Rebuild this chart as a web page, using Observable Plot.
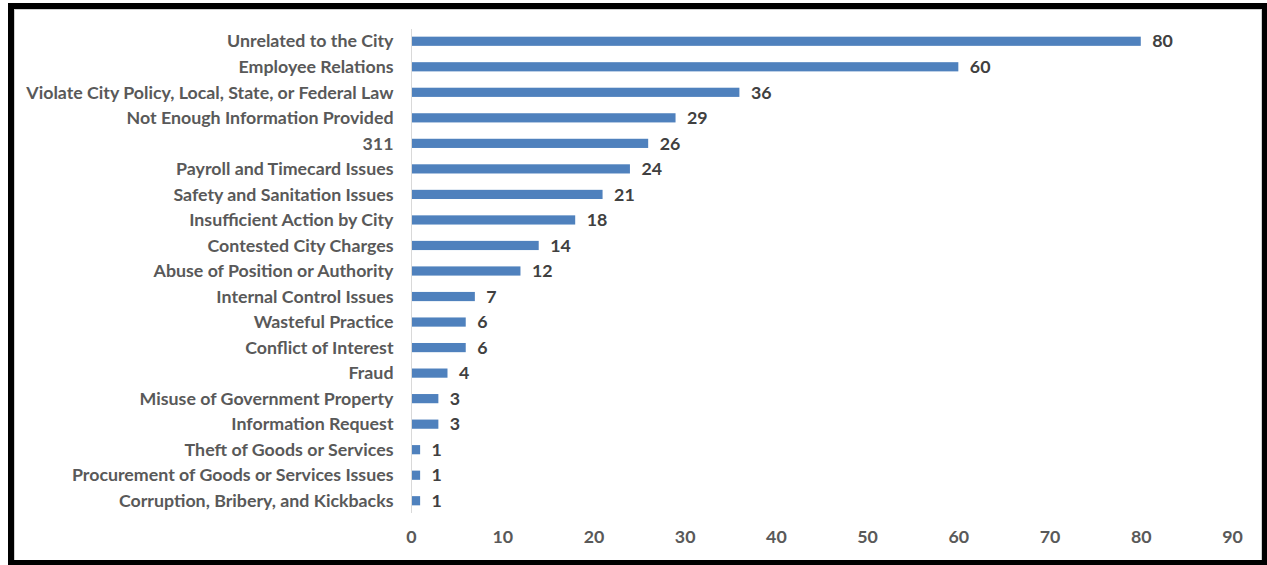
<!DOCTYPE html>
<html>
<head>
<meta charset="utf-8">
<script src="https://cdn.jsdelivr.net/npm/d3@7"></script>
<script src="https://cdn.jsdelivr.net/npm/@observablehq/plot@0.6"></script>
<style>
  html, body { margin: 0; padding: 0; background: #fff; }
  #wrap { position: relative; width: 1267px; height: 565px; overflow: hidden; }
  #frame { position: absolute; left: 8px; top: 3px; width: 1260px; height: 563px; box-sizing: border-box;
           border: 6px solid #000; pointer-events: none; }
  #inner { position: absolute; left: 14px; top: 9px; width: 1248px; height: 552px; box-sizing: border-box;
           border: 1px solid #d0d0d0; pointer-events: none; }
  svg { font-family: Lato, "Noto Sans", sans-serif; }
</style>
</head>
<body>
<div id="wrap"></div>
<script>
const categories = [
  "Unrelated to the City",
  "Employee Relations",
  "Violate City Policy, Local, State, or Federal Law",
  "Not Enough Information Provided",
  "311",
  "Payroll and Timecard Issues",
  "Safety and Sanitation Issues",
  "Insufficient Action by City",
  "Contested City Charges",
  "Abuse of Position or Authority",
  "Internal Control Issues",
  "Wasteful Practice",
  "Conflict of Interest",
  "Fraud",
  "Misuse of Government Property",
  "Information Request",
  "Theft of Goods or Services",
  "Procurement of Goods or Services Issues",
  "Corruption, Bribery, and Kickbacks"
];
const counts = [80, 60, 36, 29, 26, 24, 21, 18, 14, 12, 7, 6, 6, 4, 3, 3, 1, 1, 1];
const xTicks = [0, 10, 20, 30, 40, 50, 60, 70, 80, 90];

const data = categories.map((c, i) => ({category: c, count: counts[i]}));

const chart = Plot.plot({
  width: 1267,
  height: 565,
  marginLeft: 411,
  marginRight: 35,
  marginTop: 29,
  marginBottom: 52,
  style: {fontSize: "17.8px", fontFamily: "Lato, 'Noto Sans', sans-serif"},
  x: {domain: [0, 90], ticks: xTicks, label: null},
  y: {domain: categories, paddingInner: 0.64, paddingOuter: 0.3, round: false, label: null},
  marks: [
    Plot.barX(data, {x: "count", y: "category", fill: "#4F81BD"}),
    Plot.ruleX([0], {stroke: "#d9d9d9", strokeWidth: 1}),
    Plot.text(data, {x: "count", y: "category", text: d => String(d.count), dx: 11, textAnchor: "start",
                     fill: "#404040", fontWeight: "bold", fontSize: 17.8}),
    Plot.axisY({tickSize: 0, tickPadding: 18, fill: "#595959", fontWeight: "bold", fontSize: 17.8, label: null}),
    Plot.axisX({ticks: xTicks, tickSize: 0, tickPadding: 17, fill: "#595959", fontWeight: "bold", fontSize: 17.8, label: null})
  ]
});

const wrap = document.getElementById("wrap");
wrap.appendChild(chart);
const inner = document.createElement("div"); inner.id = "inner"; wrap.appendChild(inner);
const frame = document.createElement("div"); frame.id = "frame"; wrap.appendChild(frame);
</script>
</body>
</html>
